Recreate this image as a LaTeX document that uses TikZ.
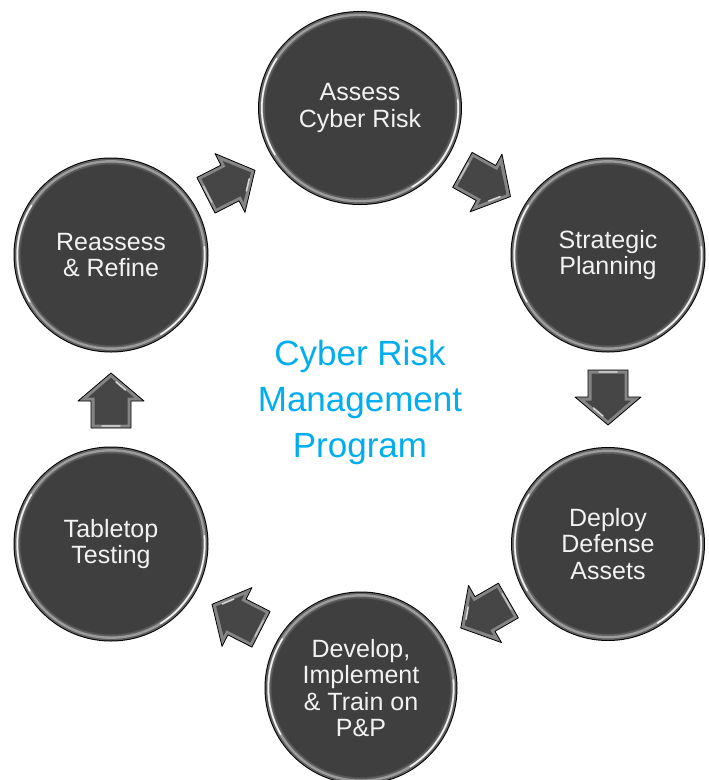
\documentclass[tikz,border=0pt]{standalone}
\usepackage{fontspec}
\setmainfont{Liberation Sans}
\usetikzlibrary{shapes.geometric}
\definecolor{bubblefill}{HTML}{3F3F3F}
\definecolor{ringlight}{HTML}{9C9C9C}
\definecolor{ringmid}{HTML}{5E5E5E}
\definecolor{titleblue}{HTML}{00AEEF}
\definecolor{bubbletext}{HTML}{F2F2F2}
\definecolor{arrowbody}{HTML}{464646}
\definecolor{arrowbevel}{HTML}{858585}
\tikzset{
  shine/.style={white, opacity=.85, line width=1.6, line cap=round},
  bubble/.style 2 args={ellipse, minimum width=2*#1, minimum height=2*#2, inner sep=0,
    fill=black, text=bubbletext, align=center, font=\fontsize{25}{26.5}\selectfont,
    path picture={
      \fill[ringmid] (path picture bounding box.center) ellipse[x radius=#1-1, y radius=#2-1];
      \draw[ringlight, line width=2.4] (path picture bounding box.center) ellipse[x radius=#1-3.8, y radius=#2-3.8];
      \fill[bubblefill, draw=black!70, line width=.5] (path picture bounding box.center) ellipse[x radius=#1-7, y radius=#2-7];
      \draw[shine] (path picture bounding box.center) ++({(#1-3.8)*cos(150)},{(#2-3.8)*sin(150)})
        arc[start angle=150, end angle=212, x radius=#1-3.8, y radius=#2-3.8];
      \draw[shine] (path picture bounding box.center) ++({(#1-3.8)*cos(-5)},{(#2-3.8)*sin(-5)})
        arc[start angle=-5, end angle=58, x radius=#1-3.8, y radius=#2-3.8];
    }},
  title/.style={text=titleblue, align=center, font=\fontsize{35}{46}\selectfont},
  flowarrow/.pic={
    \path[fill=arrowbevel, draw=black, line width=0.8, line join=round]
      (-27,-20) -- (0,-20) -- (0,-33) -- (28,0) -- (0,33) -- (0,20) -- (-27,20) -- cycle;
    \path[fill=arrowbody]
      (-23.5,-16.5) -- (3.5,-16.5) -- (3.5,-23) -- (23.4,0) -- (3.5,23) -- (3.5,16.5) -- (-23.5,16.5) -- cycle;
    \draw[white, opacity=.75, line width=1.5, line cap=round] (19,5) -- (11,14.5);
    \draw[white, opacity=.5, line width=1.5, line cap=round] (-25,-9) -- (-25,9);
  },
}
\begin{document}
\begin{tikzpicture}[x=1pt, y=-1pt]
  \useasboundingbox (0,0) rectangle (709,780);
  \clip (0,0) rectangle (709,780);
  \fill[white] (0,0) rectangle (709,780);

  \node[bubble={102}{97}] (assess) at (360,108) {Assess\\Cyber Risk};
  \node[bubble={97.5}{97.5}] (strategic) at (608,255) {Strategic\\Planning};
  \node[bubble={97}{97}] (deploy) at (608,544) {Deploy\\Defense\\Assets};
  \node[bubble={96.5}{96.5}] (develop) at (361,688) {Develop,\\Implement\\\& Train on\\P\&P};
  \node[bubble={97.5}{97.5}] (tabletop) at (111,544) {Tabletop\\Testing};
  \node[bubble={97.5}{97.5}] (reassess) at (111,255) {Reassess\\\& Refine};

  \node[title] (program) at (360,402) {Cyber Risk\\Management\\Program};

  \pic[rotate=27] at (230,183) {flowarrow};
  \pic[rotate=-29] at (486,183) {flowarrow};
  \pic[rotate=-90] at (608,397) {flowarrow};
  \pic[rotate=210] at (485,614) {flowarrow};
  \pic[rotate=153] at (237,617) {flowarrow};
  \pic[rotate=90] at (111,401) {flowarrow};
\end{tikzpicture}
\end{document}
